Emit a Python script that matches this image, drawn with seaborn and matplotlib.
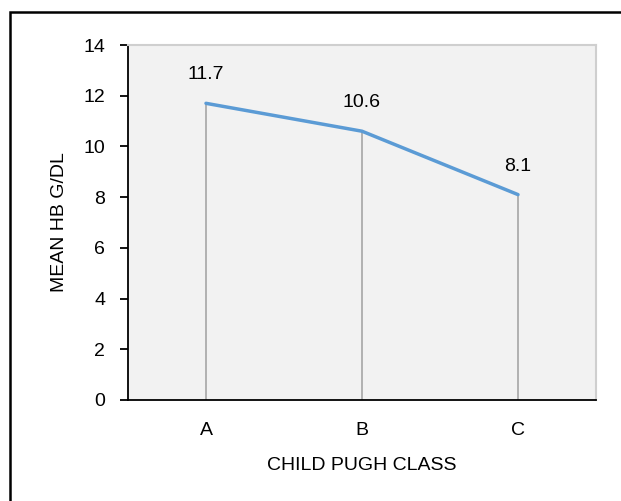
import matplotlib
matplotlib.use("Agg")
import matplotlib.pyplot as plt
import seaborn as sns
import pandas as pd
from matplotlib.patches import Rectangle

# data
classes = ["A", "B", "C"]
mean_hb = [11.7, 10.6, 8.1]
y_ticks = [0, 2, 4, 6, 8, 10, 12, 14]

df = pd.DataFrame({"cls": classes, "hb": mean_hb})

sns.set_style("white")
plt.rcParams["font.family"] = ["Liberation Sans Narrow", "Liberation Sans", "DejaVu Sans"]
plt.rcParams["text.color"] = "black"
plt.rcParams["axes.labelcolor"] = "black"
plt.rcParams["xtick.color"] = "black"
plt.rcParams["ytick.color"] = "black"

fig = plt.figure(figsize=(6.21, 5.01), dpi=100)
ax = fig.add_axes([128 / 621, 101 / 501, 468 / 621, 355 / 501])
ax.set_facecolor("#F2F2F2")

pos = list(range(len(classes)))
# drop lines
ax.vlines(pos, 0, df["hb"], color="#A6A6A6", lw=1.2, zorder=2)
sns.lineplot(x=pos, y=df["hb"], ax=ax, color="#5B9BD5", lw=2.5, zorder=3)

for x, v in zip(pos, mean_hb):
    ax.text(x, v + 0.95, f"{v:.1f}", ha="center", va="baseline", fontsize=14)

ax.set_xlim(-0.5, len(classes) - 0.5)
ax.set_ylim(0, 14)
ax.set_yticks(y_ticks)
ax.set_yticklabels([str(t) for t in y_ticks], fontsize=14)
ax.set_xticks(pos)
ax.set_xticklabels(classes, fontsize=14)
ax.set_xticks([p - 0.5 for p in pos] + [len(classes) - 0.5], minor=True)
ax.tick_params(axis="x", which="major", length=0, pad=16)
ax.tick_params(axis="x", which="minor", length=5.5, width=1.3, direction="out")
ax.tick_params(axis="y", length=5.5, width=1.3, direction="out", pad=11, left=True)

ax.set_xlabel("CHILD PUGH CLASS", fontsize=14, labelpad=13)
ax.set_ylabel("MEAN HB G/DL", fontsize=14, labelpad=11)

for s in ["left", "bottom"]:
    ax.spines[s].set_color("black")
    ax.spines[s].set_linewidth(1.3)
for s in ["top", "right"]:
    ax.spines[s].set_color("#CFCFCF")
    ax.spines[s].set_linewidth(1.5)

# outer frame
fig.patches.append(Rectangle((9.5 / 621, -0.1), 1.2, (501 - 11.5) / 501 + 0.1,
                             transform=fig.transFigure, fill=False,
                             edgecolor="black", lw=1.8))

fig.savefig("out.png", dpi=100)
